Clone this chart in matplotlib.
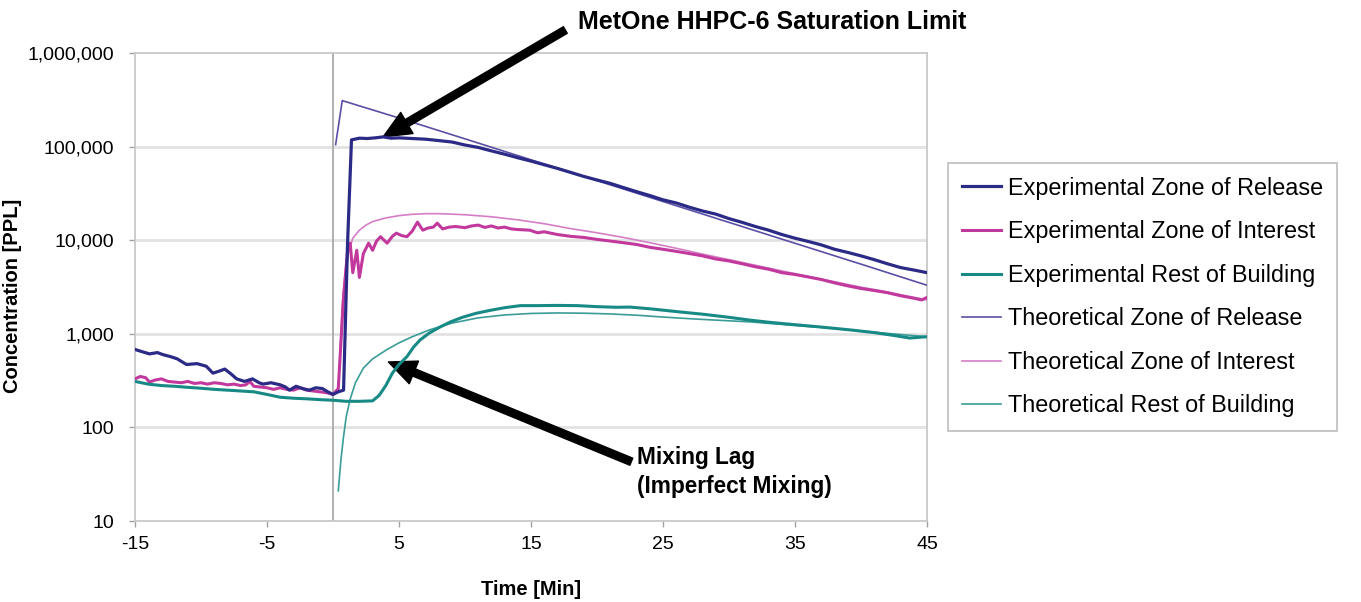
import matplotlib
matplotlib.use("Agg")
import matplotlib.pyplot as plt
from matplotlib.ticker import FuncFormatter, NullLocator

plt.rcParams['font.family'] = ['Liberation Sans', 'DejaVu Sans']

# ---------------- data ----------------
exp_release_t = [-15, -14.4, -13.9, -13.3, -12.9, -12.3, -11.8, -11.1, -10.3, -9.6,
                 -9.1, -8.6, -8.2, -7.7, -7.3, -6.7, -6.1, -5.6, -5.3, -4.7,
                 -4.0, -3.6, -3.3, -2.8, -2.3, -1.8, -1.3, -0.8, -0.4, 0.0,
                 0.4, 0.8, 1.1, 1.4, 2.0, 2.6, 3.2, 3.8, 4.4, 5.0,
                 6, 7, 8, 9, 10, 11, 12, 13, 14, 15, 16, 17, 18, 19, 20,
                 21, 22, 23, 24, 25, 26, 27, 28, 29, 30, 31, 32, 33, 34, 35,
                 36, 37, 38, 39, 40, 41, 42, 43, 44, 45]
exp_release_v = [680, 640, 610, 630, 600, 570, 540, 470, 480, 450,
                 380, 400, 420, 370, 330, 310, 330, 300, 290, 300,
                 285, 270, 250, 275, 260, 250, 265, 260, 240, 225,
                 240, 250, 9000, 118000, 123000, 122000, 124000, 127000, 123000, 124000,
                 122000, 120000, 116000, 112000, 104000, 98000, 90000, 83000, 76000, 70000,
                 64000, 58500, 53000, 48000, 44000, 40500, 36500, 33000, 30000, 27000,
                 25000, 22500, 20500, 19000, 17000, 15500, 14000, 12800, 11500, 10500,
                 9700, 8900, 8000, 7400, 6800, 6200, 5600, 5100, 4800, 4500]

exp_interest_t = [-15, -14.6, -14.2, -13.9, -13.5, -13, -12.5, -12, -11.5, -11,
                  -10.5, -10, -9.5, -9, -8.5, -8, -7.5, -7, -6.6, -6.3,
                  -6.0, -5.5, -5, -4.5, -4, -3.5, -3, -2.5, -2, -1.5,
                  -1, -0.5, 0, 0.4, 0.8, 1.1, 1.3, 1.5, 1.8, 2.0,
                  2.3, 2.7, 3.0, 3.3, 3.6, 4.1, 4.5, 4.8, 5.2, 5.6,
                  6.0, 6.4, 6.8, 7.2, 7.6, 7.9, 8.3, 8.8, 9.3, 10,
                  10.5, 11, 11.5, 12, 12.5, 13, 13.5, 14, 14.9, 15.5,
                  16, 17, 18, 19, 20, 21, 22, 23, 24, 25,
                  26, 27, 28, 29, 30, 31, 32, 33, 34, 35,
                  36, 37, 38, 39, 40, 41, 42, 43, 44, 44.6, 45]
exp_interest_v = [330, 350, 340, 305, 320, 330, 310, 305, 300, 310,
                  295, 300, 290, 300, 295, 285, 290, 280, 285, 310,
                  275, 270, 265, 255, 265, 255, 250, 265, 250, 245,
                  240, 235, 225, 260, 2500, 7500, 9300, 4500, 7800, 4000,
                  7200, 9300, 7800, 9800, 10900, 9300, 11000, 11900, 11200, 10900,
                  12500, 15600, 12800, 13500, 13800, 15200, 13200, 13800, 14000, 13600,
                  14200, 14500, 13700, 14200, 13500, 13800, 13200, 13000, 12800, 12000,
                  12300, 11500, 11000, 10700, 10200, 9800, 9400, 9000, 8400, 8000,
                  7600, 7200, 6800, 6300, 6000, 5600, 5200, 4900, 4500, 4300,
                  4050, 3800, 3500, 3250, 3050, 2900, 2750, 2550, 2400, 2300, 2450]

exp_rest_t = [-15, -14, -13, -12, -11, -10, -9, -8, -7, -6,
              -5, -4, -3, -2, -1, 0, 1, 2, 3, 3.5,
              4, 4.5, 5, 5.6, 6.1, 6.6, 7.3, 8.1, 8.9, 9.8,
              10.8, 11.9, 13, 14.2, 15.5, 17, 18.5, 20, 21.5, 22.5,
              24, 26.5, 28, 30, 31.6, 33, 35, 37, 39.2, 41,
              42.5, 43.7, 44.5, 45]
exp_rest_v = [310, 290, 280, 275, 268, 262, 255, 250, 245, 240,
              225, 210, 205, 202, 198, 195, 190, 190, 192, 220,
              280, 380, 470, 570, 720, 860, 1020, 1180, 1340, 1500,
              1650, 1780, 1900, 2000, 2000, 2010, 2000, 1950, 1920, 1930,
              1850, 1700, 1620, 1500, 1400, 1330, 1250, 1180, 1100, 1030,
              960, 900, 920, 930]

theo_release_t = [0.2, 0.7, 5, 10, 15, 20, 25, 30, 35, 40, 45]
theo_release_v = [105000, 310000, 202000, 121000, 72300, 43300, 25900, 15500, 9270, 5550, 3300]

theo_interest_t = [0.4, 0.7, 1.0, 1.5, 2.0, 2.5, 3, 4, 5, 6, 7, 8, 9, 10,
                   12, 14, 16, 18, 20, 22, 24, 26, 28, 30, 32, 34, 36, 38,
                   40, 42, 44, 45]
theo_interest_v = [250, 2000, 6000, 10500, 12800, 14500, 15800, 17300, 18300, 18900,
                   19200, 19200, 19000, 18700, 17800, 16500, 15000, 13300, 12000, 10700,
                   9400, 8200, 7100, 6200, 5400, 4700, 4100, 3600, 3150, 2800, 2450, 2300]

theo_rest_t = [0.4, 0.6, 0.8, 1.0, 1.3, 1.7, 2.3, 3.0, 4.1, 5.0, 6.0, 7.3, 9, 11,
               13, 15, 17, 19, 21, 23, 25, 27, 29, 31.6, 34, 37, 39.2, 42, 45]
theo_rest_v = [21, 45, 80, 130, 200, 300, 430, 540, 680, 800, 930, 1100, 1300, 1480,
               1590, 1650, 1670, 1660, 1630, 1580, 1510, 1450, 1400, 1340, 1260, 1170,
               1100, 1010, 930]

x_ticks = [-15, -5, 5, 15, 25, 35, 45]
y_ticks = [10, 100, 1000, 10000, 100000, 1000000]

# ---------------- plot ----------------
W, H = 1361, 602
fig = plt.figure(figsize=(W / 100, H / 100), dpi=100)
ax = fig.add_axes([135 / W, 1 - 521 / H, (927 - 135) / W, (521 - 53) / H])

ax.set_yscale('log')
ax.set_xlim(-15, 45)
ax.set_ylim(10, 1e6)

for y in y_ticks[1:-1]:
    ax.axhline(y, color='#E2E2E2', lw=2, zorder=0)
ax.axvline(0, color='#A9A9A9', lw=1.3, zorder=1)

ax.plot(exp_release_t, exp_release_v, color='#2B2A86', lw=2.3, label='Experimental Zone of Release', zorder=5)
ax.plot(exp_interest_t, exp_interest_v, color='#C2399E', lw=2.2, label='Experimental Zone of Interest', zorder=4)
ax.plot(exp_rest_t, exp_rest_v, color='#178A85', lw=2.2, label='Experimental Rest of Building', zorder=4)
ax.plot(theo_release_t, theo_release_v, color='#5A4FA6', lw=1.2, label='Theoretical Zone of Release', zorder=3)
ax.plot(theo_interest_t, theo_interest_v, color='#D67EC5', lw=1.2, label='Theoretical Zone of Interest', zorder=3)
ax.plot(theo_rest_t, theo_rest_v, color='#3A9C98', lw=1.2, label='Theoretical Rest of Building', zorder=3)

ax.set_xticks(x_ticks)
ax.set_xticklabels([str(v) for v in x_ticks])
ax.set_yticks(y_ticks)
ax.yaxis.set_major_formatter(FuncFormatter(lambda v, p: f"{int(round(v)):,}"))
ax.yaxis.set_minor_locator(NullLocator())
ax.tick_params(axis='both', labelsize=14, colors='#A0A0A0', labelcolor='black', length=4, width=1)
ax.tick_params(axis='y', pad=11)
ax.tick_params(axis='x', pad=7)

for s in ax.spines.values():
    s.set_color('#C8C8C8')
    s.set_linewidth(1.3)

ax.set_xlabel('Time [Min]', fontsize=14.5, fontweight='bold', labelpad=19)
ax.set_ylabel('Concentration [PPL]', fontsize=14.5, fontweight='bold')
ax.yaxis.set_label_coords(-0.143, 0.48)

leg = fig.legend(loc='center left', bbox_to_anchor=(948 / W, 1 - 297 / H), fontsize=16.8,
                 frameon=True, fancybox=False, edgecolor='#BEBEBE', framealpha=1,
                 handlelength=1.65, handletextpad=0.3, labelspacing=0.88,
                 borderpad=0.6, borderaxespad=0)
leg.get_frame().set_linewidth(1.2)

# annotations
arrow = dict(arrowstyle='simple,head_length=0.9,head_width=0.8,tail_width=0.25',
             color='black', mutation_scale=22, shrinkA=0, shrinkB=0)
ax.annotate('', xy=(3.8, 1.27e5), xytext=(17.6, 1.76e6), arrowprops=arrow,
            annotation_clip=False)
ax.annotate('', xy=(4.2, 500), xytext=(22.6, 43), arrowprops=arrow,
            annotation_clip=False)

fig.text(578 / W, 1 - 22 / H, 'MetOne HHPC-6 Saturation Limit', fontsize=18,
         fontweight='bold', ha='left', va='center')
fig.text(637 / W, 1 - 472 / H, 'Mixing Lag\n(Imperfect Mixing)', fontsize=16.3,
         fontweight='bold', ha='left', va='center', linespacing=1.38)

fig.savefig('out.png', dpi=100)
